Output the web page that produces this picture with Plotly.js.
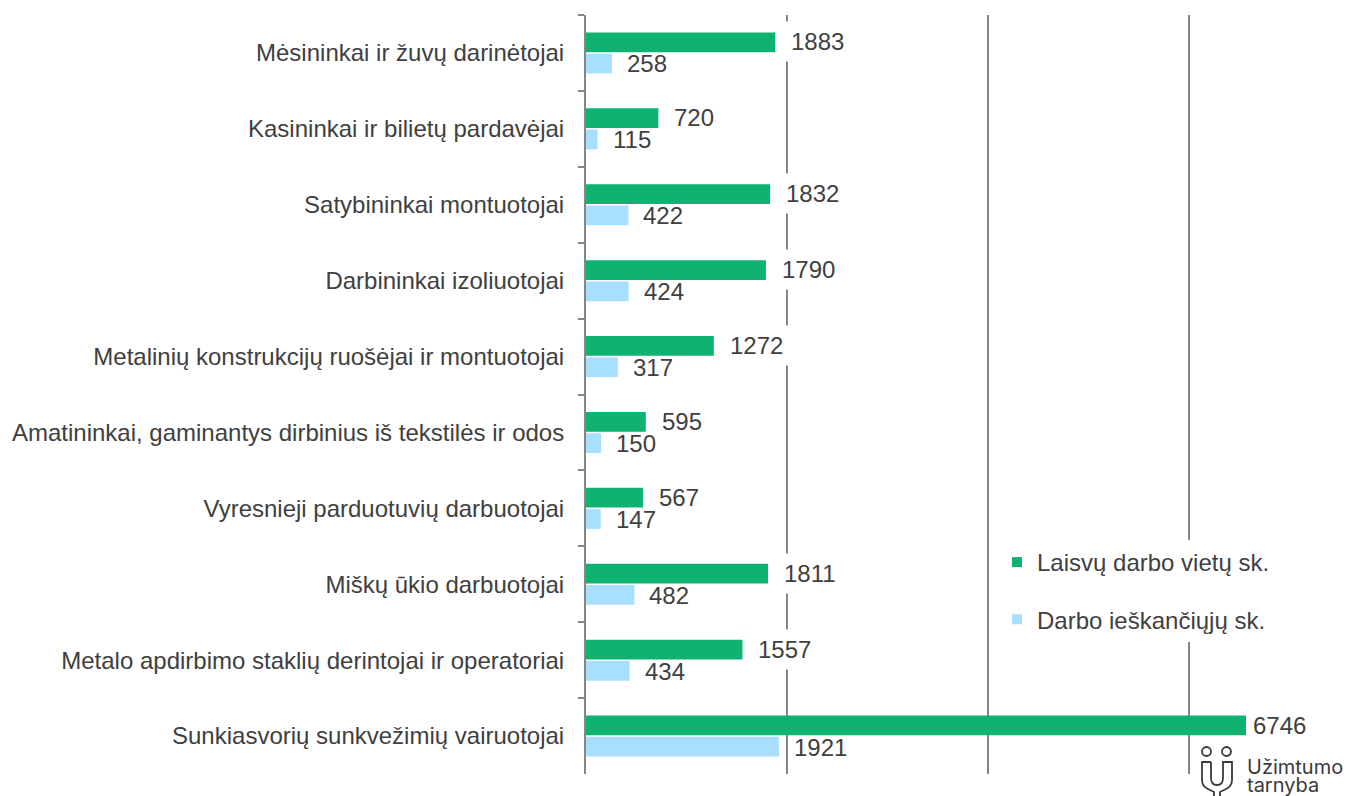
<!DOCTYPE html>
<html><head><meta charset="utf-8">
<script src="https://cdn.plot.ly/plotly-3.0.1.min.js"></script>
<style>html,body{margin:0;padding:0;background:#fff;overflow:hidden}</style></head>
<body><div id="chart" style="width:1346px;height:796px"></div>
<script>
const categories = ["Mėsininkai ir žuvų darinėtojai","Kasininkai ir bilietų pardavėjai","Satybininkai montuotojai","Darbininkai izoliuotojai","Metalinių konstrukcijų ruošėjai ir montuotojai","Amatininkai, gaminantys dirbinius iš tekstilės ir odos","Vyresnieji parduotuvių darbuotojai","Miškų ūkio darbuotojai","Metalo apdirbimo staklių derintojai ir operatoriai","Sunkiasvorių sunkvežimių vairuotojai"];
const vacancyLabels = [1883,720,1832,1790,1272,595,567,1811,1557,6746];
// Bar lengths as drawn in the picture: the last bar is printed "6746" but is drawn shorter there.
const vacancyBars = [1883,720,1832,1790,1272,595,567,1811,1557,6567];
const seekerValues = [258,115,422,424,317,150,147,482,434,1921];
const seriesNames = ["Laisvų darbo vietų sk.","Darbo ieškančiųjų sk."];
const green="#10B272", blue="#A8DFFF", grey="#868686", ink="#404040";
const font="'Liberation Sans', Arial, sans-serif";

const W=1346,H=796,L=586,T=15,B=774,pxPerUnit=0.1005;
const xMax=(W-L)/pxPerUnit;
const traces=[
 {type:"bar",orientation:"h",name:seriesNames[0],y:categories,x:vacancyBars,marker:{color:green},offsetgroup:"a",showlegend:false,hoverinfo:"x+y"},
 {type:"bar",orientation:"h",name:seriesNames[1],y:categories,x:seekerValues,marker:{color:blue},offsetgroup:"b",showlegend:false,hoverinfo:"x+y"},
 {type:"scatter",mode:"markers",name:seriesNames[0],x:[null],y:[null],marker:{symbol:"square",size:10,color:green},legendgroup:"g1"},
 {type:"scatter",mode:"markers",name:seriesNames[1],x:[null],y:[null],marker:{symbol:"square",size:10,color:blue},legendgroup:"g2"}
];
const lab=(val,text,i,shift,bg,xs)=>({x:val,y:categories[i],xref:"x",yref:"y",text:String(text),showarrow:false,xanchor:"left",yanchor:"middle",
  xshift:xs,yshift:shift,bgcolor:bg?"#fff":"rgba(0,0,0,0)",borderpad:bg?6:0,font:{family:font,size:24,color:ink}});
const annotations=[];
categories.forEach((c,i)=>{
  annotations.push(lab(vacancyBars[i],vacancyLabels[i],i,11,true,i===9?0:9));
  annotations.push(lab(seekerValues[i],seekerValues[i],i,-11,false,14));
});
const px=x=>(x-L)/(W-L), py=y=>1-(y-T)/(B-T);
const logoFont={family:"Inter, 'Noto Sans', sans-serif",size:20,color:"#3a3a3a"};
annotations.push({xref:"paper",yref:"paper",x:px(1246),y:py(767),text:"Užimtumo",showarrow:false,xanchor:"left",yanchor:"middle",borderpad:0,font:logoFont});
annotations.push({xref:"paper",yref:"paper",x:px(1246),y:py(785),text:"tarnyba",showarrow:false,xanchor:"left",yanchor:"middle",borderpad:0,font:logoFont});
const lg={color:"#3a3a3a",width:1.8};
const P=(x,y)=>px(x)+","+py(y);
const shapes=[
 {type:"rect",layer:"between",xref:"paper",yref:"paper",x0:px(1000),x1:px(1285),y0:py(648),y1:py(535),fillcolor:"#fff",line:{width:0}},
 {type:"circle",xref:"paper",yref:"paper",x0:px(1202),x1:px(1211),y0:py(756),y1:py(747),line:lg},
 {type:"circle",xref:"paper",yref:"paper",x0:px(1222),x1:px(1231),y0:py(756),y1:py(747),line:lg},
 {type:"path",xref:"paper",yref:"paper",line:lg,path:"M"+P(1211,762)+" L"+P(1202,762)+" L"+P(1202,780)+" Q"+P(1202,786)+" "+P(1208,789)+" L"+P(1214,792)+" L"+P(1214,796)},
 {type:"path",xref:"paper",yref:"paper",line:lg,path:"M"+P(1211,762)+" L"+P(1211,778)+" Q"+P(1211,785)+" "+P(1217,785)+" Q"+P(1223,785)+" "+P(1223,778)+" L"+P(1223,762)+" L"+P(1232,762)+" L"+P(1232,780)+" Q"+P(1232,786)+" "+P(1226,789)+" L"+P(1220,792)+" L"+P(1220,796)},
];
const layout={width:W,height:H,margin:{l:L,r:0,t:T,b:H-B,pad:0},paper_bgcolor:"#fff",plot_bgcolor:"#fff",
 font:{family:font,size:24,color:ink},barmode:"group",bargap:0.44,bargroupgap:0.07,
 xaxis:{range:[0,xMax],tickvals:[2000,4000,6000],showticklabels:false,ticks:"",showgrid:true,gridcolor:grey,gridwidth:2,zeroline:false,showline:false},
 yaxis:{type:"category",autorange:false,range:[9.5,-0.5],categoryorder:"array",categoryarray:categories,tickson:"boundaries",ticks:"outside",ticklen:6,tickwidth:2,tickcolor:grey,showline:true,linecolor:grey,linewidth:2,showgrid:false,zeroline:false,ticklabelstandoff:15,tickfont:{family:font,size:24,color:ink}},
 legend:{x:px(997),y:py(540),xanchor:"left",yanchor:"top",bgcolor:"#fff",font:{family:font,size:24,color:ink},tracegroupgap:23,itemclick:false,itemdoubleclick:false},
 showlegend:true,annotations,shapes
};
Plotly.newPlot("chart",traces,layout,{staticPlot:true,displayModeBar:false});
</script></body></html>
